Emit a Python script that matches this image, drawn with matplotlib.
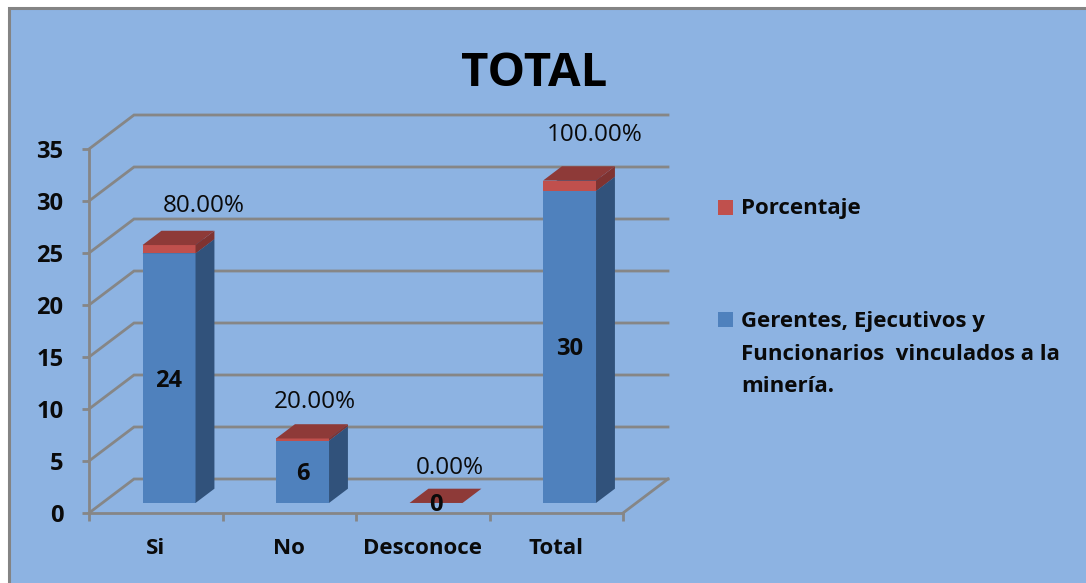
import numpy as np
import matplotlib
matplotlib.use('Agg')
from matplotlib import pyplot as plt
from matplotlib.patches import Polygon, Rectangle

plt.rcParams['font.family'] = ['Open Sans', 'DejaVu Sans']
plt.rcParams['font.weight'] = 'bold'

categories = ['Si', 'No', 'Desconoce', 'Total']
gerentes = [24, 6, 0, 30]
porcentaje = [0.80, 0.20, 0.00, 1.00]
yticks = [0, 5, 10, 15, 20, 25, 30, 35]
title = 'TOTAL'
legend_1 = 'Porcentaje'
legend_2 = 'Gerentes, Ejecutivos y\nFuncionarios  vinculados a la\nminería.'

W, H = 1086, 583
BG = '#8db3e2'
GRID = '#868686'

fig = plt.figure(figsize=(W/100, H/100), dpi=100, facecolor='white')

# background with grey frame, runs off the right and bottom like the screenshot
fig.patches.append(Rectangle((9/W, -0.05), 1.2, 1 - 8/H + 0.05, transform=fig.transFigure,
                             facecolor=BG, edgecolor='#848484', linewidth=2.2, zorder=-5))

# axes = front plane of the 3d box
ax = fig.add_axes([89/W, 1 - 513/H, (623-89)/W, (513-149)/H])
ax.set_xlim(-0.5, 3.5)
ax.set_ylim(0, 35)
ax.patch.set_visible(False)
for s in ['top', 'right']:
    ax.spines[s].set_visible(False)
for s in ['left', 'bottom']:
    ax.spines[s].set_color(GRID)
    ax.spines[s].set_linewidth(2)

ax.set_yticks(yticks)
ax.set_xticks(np.arange(-0.5, 4, 1))
ax.set_xticklabels([])
ax.tick_params(axis='y', length=5, width=2, color=GRID, labelsize=17, pad=13.5)
ax.tick_params(axis='x', length=6, width=2, color=GRID, direction='out')
for lab in ax.get_yticklabels():
    lab.set_fontweight('bold')
    lab.set_color('#0a0a0a')

for i, c in enumerate(categories):
    ax.annotate(c, (i, 0), xytext=(0, -36), textcoords='offset pixels', ha='center', va='center',
                fontsize=16, fontweight='bold', color='#0a0a0a')

# depth of the box in data units
dx = 45 / ((623-89) / 4)
dy = 34 / ((513-149) / 35)


def poly(pts, col, z):
    ax.add_patch(Polygon(pts, closed=True, facecolor=col, edgecolor='none', zorder=z, clip_on=False))


def box(x0, x1, y0, y1, d0, d1, front, side, top, z):
    # d0,d1 = depth fractions of front and back face
    f = lambda x, y, d: (x + dx*d, y + dy*d)
    poly([f(x0, y0, d0), f(x1, y0, d0), f(x1, y1, d0), f(x0, y1, d0)], front, z)
    poly([f(x1, y0, d0), f(x1, y0, d1), f(x1, y1, d1), f(x1, y1, d0)], side, z)
    poly([f(x0, y1, d0), f(x1, y1, d0), f(x1, y1, d1), f(x0, y1, d1)], top, z)


# grid lines: floor/wall bend
for t in yticks:
    ax.plot([-0.5, -0.5+dx, 3.5+dx], [t, t+dy, t+dy], color=GRID, lw=2, zorder=1, clip_on=False,
            solid_joinstyle='miter')
ax.plot([3.5, 3.5+dx], [0, dy], color=GRID, lw=2, zorder=1, clip_on=False)

bar_w = 53 / ((623-89) / 4)
d0, d1 = 0.295, 0.715
pct_off = [(35, 39), (12, 36), (14, 35), (25, 46)]

for i in range(len(categories)):
    v = gerentes[i]
    p = porcentaje[i]
    x0 = i - bar_w/2
    x1 = i + bar_w/2
    if v > 0:
        box(x0, x1, 0, v, d0, d1, '#4f81bd', '#31527b', '#3f6797', 3)
    box(x0, x1, v, v+p, d0, d1, '#c0504d', '#7f3331', '#8e3a38', 4)
    # value label in the middle of the blue bar
    cx = i + dx*d0
    cy = v/2 + dy*d0
    ax.annotate(str(v), (cx, cy), xytext=(0, -2.5), textcoords='offset pixels', ha='center', va='center',
                fontsize=17, fontweight='bold', color='#0a0a0a', zorder=6)
    ax.annotate('%.2f%%' % (p*100), (cx, v+p+dy*d0), xytext=pct_off[i], textcoords='offset pixels',
                ha='center', va='center', fontsize=17.5, fontweight='normal', color='#0a0a0a', zorder=6)

fig.text(534/W, 1 - 73/H, title, ha='center', va='center', fontsize=34, fontweight='bold', color='black')

# legend
fig.patches.append(Rectangle((718/W, 1 - 215/H), 15/W, 15/H, transform=fig.transFigure, facecolor='#c0504d', edgecolor='none'))
fig.patches.append(Rectangle((718/W, 1 - 327/H), 15/W, 15/H, transform=fig.transFigure, facecolor='#4f81bd', edgecolor='none'))
fig.text(741/W, 1 - 209/H, legend_1, ha='left', va='center', fontsize=16, fontweight='bold', color='#0a0a0a')
fig.text(741/W, 1 - 354/H, legend_2, ha='left', va='center', fontsize=16, fontweight='bold', color='#0a0a0a', linespacing=1.7)

fig.savefig('out.png', dpi=100, facecolor='white')
